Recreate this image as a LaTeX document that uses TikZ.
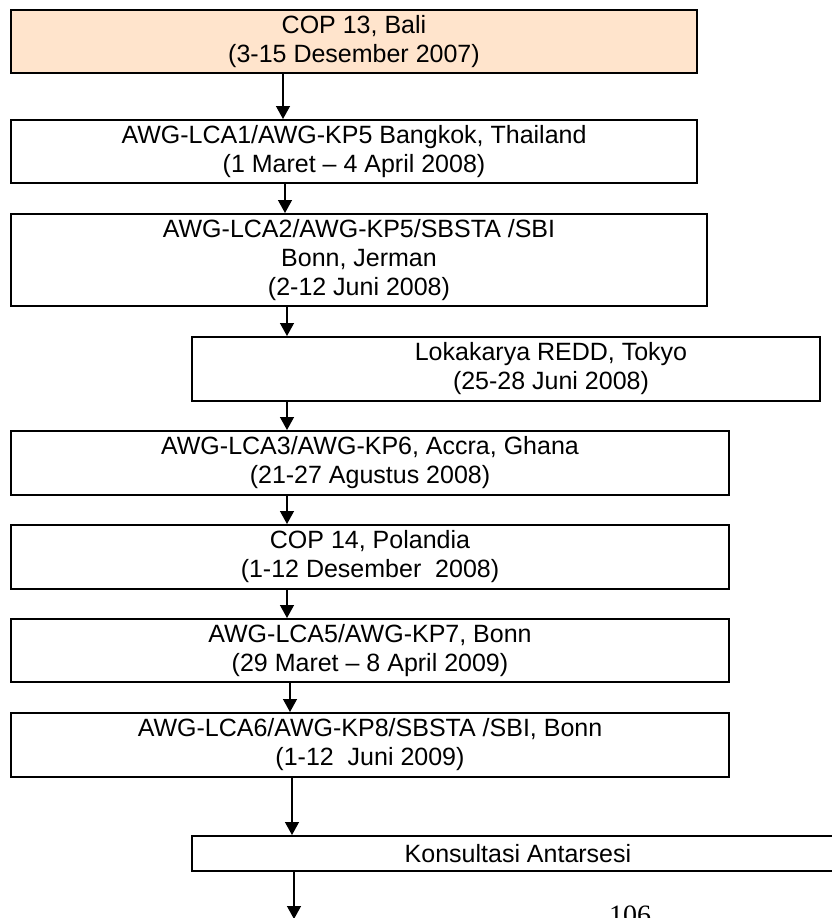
\documentclass[tikz,border=0pt]{standalone}
\usepackage{fontspec}
\setmainfont{Liberation Sans}
\newfontfamily\pagefont{Liberation Serif}
\usetikzlibrary{arrows.meta}
\definecolor{peach}{RGB}{255,228,204}
\tikzset{
  box/.style={draw, line width=1pt, inner sep=0pt, align=center,
    font=\fontsize{12.5}{14.5}\selectfont},
  arr/.style={-{Triangle[length=6.5pt,width=7pt]}, line width=0.65pt}
}
\begin{document}
\begin{tikzpicture}[x=0.5pt,y=-0.5pt]
      \useasboundingbox (0,0) rectangle (832,918);
      \draw
        (354,41.5) node[box, fill=peach, minimum width=343pt, minimum height=31.5pt] (0)
          {COP 13, Bali\\(3-15 Desember 2007)}
        (354,151.5) node[box, minimum width=343pt, minimum height=31.5pt] (1)
          {AWG-LCA1/AWG-KP5 Bangkok, Thailand\\(1 Maret -- 4 April 2008)}
        (359,260) node[box, minimum width=348pt, minimum height=46pt] (2)
          {AWG-LCA2/AWG-KP5/SBSTA /SBI\\Bonn, Jerman\\(2-12 Juni 2008)}
        (506,369) node[box, minimum width=314pt, minimum height=32pt] (3) {}
        (551,369) node[box, draw=none] (3t)
          {Lokakarya REDD, Tokyo\\(25-28 Juni 2008)}
        (370,463) node[box, minimum width=359pt, minimum height=32pt] (4)
          {AWG-LCA3/AWG-KP6, Accra, Ghana\\(21-27 Agustus 2008)}
        (370,557) node[box, minimum width=359pt, minimum height=32pt] (5)
          {COP 14, Polandia\\(1-12 Desember\ \ 2008)}
        (370,650.5) node[box, minimum width=359pt, minimum height=31.5pt] (6)
          {AWG-LCA5/AWG-KP7, Bonn\\(29 Maret -- 8 April 2009)}
        (370,745) node[box, minimum width=359pt, minimum height=32pt] (7)
          {AWG-LCA6/AWG-KP8/SBSTA /SBI, Bonn\\(1-12\ \ Juni 2009)}
        (518,853.5) node[box, minimum width=326pt, minimum height=17.5pt] (8)
          {Konsultasi Antarsesi};
      \coordinate (end) at (294,919);
      \node[font=\pagefont\fontsize{14}{16}\selectfont, anchor=base] (page) at (630,924) {106};
      \begin{scope}[arr]
        \draw (0.south -| 283,0) to (1.north -| 283,0);
        \draw (1.south -| 285,0) to (2.north -| 285,0);
        \draw (2.south -| 287,0) to (3.north -| 287,0);
        \draw (3.south -| 287,0) to (4.north -| 287,0);
        \draw (4.south -| 287,0) to (5.north -| 287,0);
        \draw (5.south -| 287,0) to (6.north -| 287,0);
        \draw (6.south -| 290,0) to (7.north -| 290,0);
        \draw (7.south -| 292,0) to (8.north -| 292,0);
        \draw (8.south -| 294,0) to (end);
      \end{scope}
    \end{tikzpicture}
\end{document}
